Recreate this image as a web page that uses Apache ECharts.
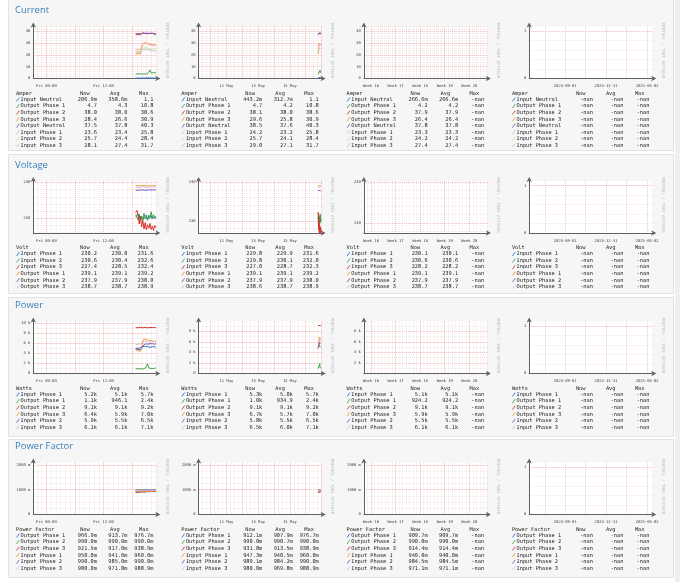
<!DOCTYPE html>
<html>
<head>
<meta charset="utf-8">
<script src="https://cdn.jsdelivr.net/npm/echarts@6/dist/echarts.min.js"></script>
<style>
  html, body { margin: 0; padding: 0; background: #fff; }
  #main { width: 680px; height: 582px; }
</style>
</head>
<body>
<div id="main"></div>
<script>
// sample times of the last hours (Fri 16 May 2025, UTC)
const sampleTimes = ['18:45', '19:00', '19:15', '19:30', '19:45', '20:00', '20:15', '20:30', '20:45',
  '21:00', '21:15', '21:30', '21:45', '22:00', '22:15', '22:30', '22:45', '23:00'];

// ---- Current (A)
const currentNames = ['Input Neutral', 'Output Phase 1', 'Output Phase 2', 'Output Phase 3', 'Output Neutral', 'Input Phase 1', 'Input Phase 2', 'Input Phase 3'];
const currentInNeutral = [0.3, 0.4, 0.3, 0.5, 0.3, 0.2, 0.4, 0.6, 0.3, 0.2, 0.5, 0.3, 0.4, 1.1, 0.3, 0.2, 0.4, 0.21];
const currentOutPhase1 = [3.6, 3.8, 4.0, 3.5, 3.9, 4.2, 3.7, 4.1, 3.9, 4.4, 4.0, 4.3, 7.2, 4.6, 4.1, 5.0, 4.3, 4.7];
const currentOutPhase2 = [37.8, 37.6, 37.9, 38.2, 37.8, 38.0, 38.3, 37.9, 38.1, 38.4, 37.8, 38.0, 38.2, 37.9, 38.1, 38.3, 37.9, 38.0];
const currentOutPhase3 = [20.8, 20.5, 20.9, 20.2, 21.0, 20.6, 29.8, 30.6, 30.2, 29.5, 29.9, 29.0, 28.8, 29.2, 28.6, 28.9, 28.3, 28.4];
const currentOutNeutral = [37.0, 36.8, 37.2, 36.5, 37.0, 37.4, 38.6, 38.9, 38.2, 37.6, 38.3, 39.0, 38.1, 37.5, 38.4, 38.0, 37.2, 37.5];
const currentInPhase1 = [22.1, 22.0, 22.3, 21.8, 22.2, 22.0, 24.5, 25.1, 24.8, 24.2, 24.6, 24.0, 23.8, 24.1, 23.5, 23.9, 23.4, 23.6];
const currentInPhase2 = [22.7, 22.6, 22.9, 22.4, 22.8, 22.5, 25.8, 26.4, 26.0, 25.4, 25.9, 25.1, 24.9, 25.3, 24.8, 25.5, 25.2, 25.7];
const currentInPhase3 = [24.3, 24.2, 24.5, 24.0, 24.4, 24.1, 29.5, 30.2, 29.8, 29.0, 29.4, 28.6, 28.4, 28.9, 28.0, 28.5, 27.9, 28.1];
const currentDayStats = [['206.9m', '358.6m', '1.1'], ['4.7', '4.3', '10.8'], ['38.0', '38.0', '38.6'], ['28.4', '26.6', '30.9'],
  ['37.5', '37.8', '40.3'], ['23.6', '23.4', '25.8'], ['25.7', '24.4', '28.4'], ['28.1', '27.4', '31.7']];
const currentWeekStats = [['443.2m', '312.7m', '1.1'], ['4.7', '4.2', '10.8'], ['38.1', '38.0', '38.6'], ['29.6', '25.8', '30.9'],
  ['38.5', '37.6', '40.3'], ['24.2', '23.2', '25.8'], ['25.7', '24.1', '28.4'], ['29.0', '27.1', '31.7']];
const currentMonthStats = [['266.6m', '266.6m', '-nan'], ['4.2', '4.2', '-nan'], ['37.9', '37.9', '-nan'], ['26.4', '26.4', '-nan'],
  ['37.8', '37.8', '-nan'], ['23.3', '23.3', '-nan'], ['24.2', '24.2', '-nan'], ['27.4', '27.4', '-nan']];
const currentYLabels = [0, 10, 20, 30, 40];

// ---- Voltage (V)
const voltageNames = ['Input Phase 1', 'Input Phase 2', 'Input Phase 3', 'Output Phase 1', 'Output Phase 2', 'Output Phase 3'];
const voltageInPhase1 = [230.5, 230.8, 231.2, 230.5, 229.8, 230.6, 229.5, 230.2, 229.7, 230.9, 229.6, 230.3, 229.9, 230.7, 229.8, 230.4, 230.0, 230.2];
const voltageInPhase2 = [231.0, 230.8, 229.6, 231.2, 229.2, 230.6, 229.5, 231.4, 229.8, 230.5, 229.4, 230.9, 230.0, 231.8, 230.2, 231.0, 229.9, 230.6];
const voltageInPhase3 = [231.6, 232.2, 231.0, 228.4, 230.6, 227.6, 229.4, 227.0, 228.8, 226.8, 228.2, 227.2, 228.6, 226.9, 227.8, 226.6, 228.0, 227.4];
const voltageOutPhase1 = [239.1, 239.0, 239.1, 239.0, 239.1, 239.2, 239.1, 239.0, 239.1, 239.1, 239.0, 239.2, 239.1, 239.1, 239.0, 239.1, 239.2, 239.1];
const voltageOutPhase2 = [237.9, 237.9, 237.8, 237.9, 237.9, 238.0, 237.9, 237.9, 237.8, 237.9, 237.9, 238.0, 237.9, 237.9, 237.9, 237.8, 237.9, 237.9];
const voltageOutPhase3 = [238.7, 238.6, 238.7, 238.8, 238.6, 238.7, 238.9, 238.7, 238.6, 238.8, 238.7, 238.6, 238.7, 238.9, 238.7, 238.6, 238.8, 238.7];
const voltageDayStats = [['230.2', '230.0', '231.6'], ['230.6', '230.4', '232.6'], ['227.4', '228.5', '232.4'],
  ['239.1', '239.1', '239.2'], ['237.9', '237.9', '238.0'], ['238.7', '238.7', '238.9']];
const voltageWeekStats = [['229.8', '229.9', '231.6'], ['229.8', '230.1', '232.0'], ['227.0', '228.7', '232.3'],
  ['239.1', '239.1', '239.2'], ['237.9', '237.9', '238.0'], ['238.6', '238.7', '238.9']];
const voltageMonthStats = [['230.1', '230.1', '-nan'], ['230.6', '230.6', '-nan'], ['228.2', '228.2', '-nan'],
  ['239.1', '239.1', '-nan'], ['237.9', '237.9', '-nan'], ['238.7', '238.7', '-nan']];
const voltageYLabels = [230, 240];

// ---- Power (W)
const powerNames = ['Input Phase 1', 'Output Phase 1', 'Output Phase 2', 'Output Phase 3', 'Input Phase 2', 'Input Phase 3'];
const powerInPhase1 = [4800, 4700, 4800, 4650, 4750, 4900, 5300, 5500, 5400, 5600, 5300, 5500, 5200, 5400, 5300, 5100, 5300, 5200];
const powerOutPhase1 = [950, 900, 950, 880, 920, 1000, 900, 960, 1050, 980, 1900, 1100, 950, 1000, 1150, 980, 1050, 1100];
const powerOutPhase2 = [9100, 9100, 9050, 9100, 9150, 9100, 9050, 9100, 9150, 9100, 9050, 9100, 9100, 9150, 9100, 9050, 9100, 9100];
const powerOutPhase3 = [4700, 4600, 4500, 4700, 4400, 4800, 6400, 6900, 6800, 6700, 6900, 6600, 6800, 6500, 6700, 6400, 6600, 6400];
const powerInPhase2 = [5000, 4900, 5000, 4800, 5100, 5000, 5400, 5700, 5900, 6100, 5800, 6000, 5900, 5700, 5900, 6000, 5800, 5900];
const powerInPhase3 = [5800, 5700, 5800, 5600, 5900, 5800, 6300, 6500, 6400, 6600, 6300, 6500, 6200, 6400, 6300, 6100, 6300, 6100];
const powerDayStats = [['5.2k', '5.1k', '5.7k'], ['1.1k', '946.1', '2.4k'], ['9.1k', '9.1k', '9.2k'],
  ['6.4k', '5.9k', '7.0k'], ['5.9k', '5.5k', '6.5k'], ['6.1k', '6.1k', '7.1k']];
const powerWeekStats = [['5.3k', '5.0k', '5.7k'], ['1.0k', '934.9', '2.4k'], ['9.1k', '9.1k', '9.2k'],
  ['6.7k', '5.7k', '7.0k'], ['5.8k', '5.5k', '6.5k'], ['6.5k', '6.0k', '7.1k']];
const powerMonthStats = [['5.1k', '5.1k', '-nan'], ['924.2', '924.2', '-nan'], ['9.1k', '9.1k', '-nan'],
  ['5.9k', '5.9k', '-nan'], ['5.5k', '5.5k', '-nan'], ['6.1k', '6.1k', '-nan']];
const powerYLabels = [0, 2000, 4000, 6000, 8000, 10000];
const powerMonthYLabels = [2000, 4000, 6000, 8000];

// ---- Power Factor (milli)
const pfNames = ['Output Phase 1', 'Output Phase 2', 'Output Phase 3', 'Input Phase 1', 'Input Phase 2', 'Input Phase 3'];
const pfOutPhase1 = [890, 880, 900, 870, 910, 890, 920, 940, 900, 930, 960, 910, 950, 920, 940, 930, 950, 966.9];
const pfOutPhase2 = [990, 990, 991, 990, 989, 990, 991, 990, 990, 989, 990, 991, 990, 990, 989, 990, 991, 990];
const pfOutPhase3 = [912, 910, 915, 920, 905, 918, 925, 912, 930, 915, 920, 910, 925, 918, 930, 915, 920, 921.5];
const pfInPhase1 = [935, 930, 935, 940, 925, 945, 938, 950, 942, 955, 940, 948, 945, 952, 940, 950, 945, 950];
const pfInPhase2 = [982, 980, 985, 982, 988, 984, 990, 986, 983, 988, 985, 990, 984, 987, 985, 983, 988, 990];
const pfInPhase3 = [968, 965, 970, 968, 975, 972, 980, 970, 966, 978, 972, 969, 975, 980, 970, 974, 976, 980];
const pfDayStats = [['966.9m', '913.7m', '976.7m'], ['990.0m', '990.0m', '990.0m'], ['921.5m', '917.0m', '938.9m'],
  ['950.0m', '941.0m', '960.0m'], ['990.0m', '985.0m', '990.0m'], ['980.0m', '971.8m', '988.9m']];
const pfWeekStats = [['912.1m', '907.9m', '976.7m'], ['990.0m', '990.7m', '990.0m'], ['931.8m', '913.5m', '938.9m'],
  ['947.3m', '940.5m', '960.0m'], ['989.1m', '984.2m', '990.0m'], ['980.0m', '969.8m', '988.9m']];
const pfMonthStats = [['909.7m', '909.7m', '-nan'], ['990.0m', '990.0m', '-nan'], ['914.4m', '914.4m', '-nan'],
  ['940.0m', '940.0m', '-nan'], ['984.5m', '984.5m', '-nan'], ['971.1m', '971.1m', '-nan']];
const pfYLabels = [0, 1000, 2000];

const nanStats = ['-nan', '-nan', '-nan'];
const emptyYLabels = [0, 1];

// ---- time axes
const dayRange = ['2025-05-15T21:15:00Z', '2025-05-16T23:05:00Z'];
const dayLabelTimes = ['2025-05-16T00:00:00Z', '2025-05-16T12:00:00Z'];
const dayLabels = ['Fri 00:00', 'Fri 12:00'];
const weekRange = ['2025-05-09T06:00:00Z', '2025-05-17T00:00:00Z'];
const weekLabelTimes = ['2025-05-11T00:00:00Z', '2025-05-13T00:00:00Z', '2025-05-15T00:00:00Z'];
const weekLabels = ['11 May', '13 May', '15 May'];
const monthRange = ['2025-04-12T00:00:00Z', '2025-05-17T00:00:00Z'];
const monthLabelTimes = ['2025-04-14T00:00:00Z', '2025-04-21T00:00:00Z', '2025-04-28T00:00:00Z', '2025-05-05T00:00:00Z', '2025-05-12T00:00:00Z'];
const monthLabels = ['Week 16', 'Week 17', 'Week 18', 'Week 19', 'Week 20'];
const yearRange = ['2024-05-17T00:00:00Z', '2025-05-17T00:00:00Z'];
const yearLabelTimes = ['2024-09-01T00:00:00Z', '2024-12-31T00:00:00Z', '2025-05-02T00:00:00Z'];
const yearLabels = ['2024-09-01', '2024-12-31', '2025-05-02'];

const palette = ['#2272c8', '#3aa64a', '#d8312b', '#f59a2e', '#7c52b8', '#cbc0da', '#cfe29a', '#f3aab4'];

const HOUR = 3600e3, DAY = 24 * HOUR;

// grid line positions: every step from an anchor, inside [lo, hi]
function marks(anchor, step, lo, hi) {
  const out = [];
  let v = anchor - Math.ceil((anchor - lo) / step) * step;
  for (; v <= hi + 1e-9; v += step) {
    if (v >= lo - 1e-9) out.push(+v.toFixed(6));
  }
  return out;
}

const periods = [
  { range: dayRange, labelTimes: dayLabelTimes, labels: dayLabels, anchor: '2025-05-16T00:00:00Z', major: 6 * HOUR, minor: HOUR },
  { range: weekRange, labelTimes: weekLabelTimes, labels: weekLabels, anchor: '2025-05-16T00:00:00Z', major: DAY, minor: 6 * HOUR },
  { range: monthRange, labelTimes: monthLabelTimes, labels: monthLabels, anchor: '2025-04-14T00:00:00Z', major: 7 * DAY, minor: DAY },
  { range: yearRange, labelTimes: yearLabelTimes, labels: yearLabels, anchor: '2024-09-01T00:00:00Z', major: 60.75 * DAY, minor: 0 }
];

const fmtPlain = v => String(v);
const fmtPower = v => v === 0 ? '0' : (v / 1000) + ' k';
const fmtPf = v => v === 0 ? '0' : v + ' m';

const sections = [
  { title: 'Current', unit: 'Amper', names: currentNames,
    series: [currentInNeutral, currentOutPhase1, currentOutPhase2, currentOutPhase3, currentOutNeutral, currentInPhase1, currentInPhase2, currentInPhase3],
    stats: [currentDayStats, currentWeekStats, currentMonthStats],
    y: [[0, 44], [0, 44], [0, 44]], ylabels: [currentYLabels, currentYLabels, currentYLabels], major: 10, minor: 2, fmt: fmtPlain },
  { title: 'Voltage', unit: 'Volt', names: voltageNames,
    series: [voltageInPhase1, voltageInPhase2, voltageInPhase3, voltageOutPhase1, voltageOutPhase2, voltageOutPhase3],
    stats: [voltageDayStats, voltageWeekStats, voltageMonthStats],
    y: [[225.9, 240.4], [226.9, 240.3], [227.5, 240.2]], ylabels: [voltageYLabels, voltageYLabels, voltageYLabels], major: 10, minor: 2, fmt: fmtPlain },
  { title: 'Power', unit: 'Watts', names: powerNames,
    series: [powerInPhase1, powerOutPhase1, powerOutPhase2, powerOutPhase3, powerInPhase2, powerInPhase3],
    stats: [powerDayStats, powerWeekStats, powerMonthStats],
    y: [[0, 10300], [0, 9900], [0, 9900]], ylabels: [powerYLabels, powerYLabels, powerMonthYLabels], major: 2000, minor: 1000, fmt: fmtPower },
  { title: 'Power Factor', unit: 'Power Factor', names: pfNames,
    series: [pfOutPhase1, pfOutPhase2, pfOutPhase3, pfInPhase1, pfInPhase2, pfInPhase3],
    stats: [pfDayStats, pfWeekStats, pfMonthStats],
    y: [[0, 2100], [0, 2100], [0, 2100]], ylabels: [pfYLabels, pfYLabels, pfYLabels], major: 1000, minor: 250, fmt: fmtPf }
];

// layout
const colBase = [16, 181.3, 346.6, 511.9];
const sectionTop = [10.5, 165, 305.5, 446.5];
const panels = [[-1, 151], [154, 139], [297, 139], [439, 138]];

const monoFont = '"DejaVu Sans Mono", monospace';
const majorLine = { color: 'rgba(236,120,120,0.5)', width: 0.8, type: [1, 1] };
const minorLine = { color: 'rgba(215,170,170,0.35)', width: 0.8, type: [1, 1] };
const axisLineStyle = { color: '#606060', width: 1 };

const grids = [], xAxes = [], yAxes = [], series = [], graphics = [];

panels.forEach(p => {
  graphics.push({ type: 'rect', z: -100, shape: { x: 8.5, y: p[0] + 0.5, width: 665, height: p[1] },
    style: { fill: '#f6f6f6', stroke: '#e2e2e2', lineWidth: 1 } });
});
graphics.push({ type: 'rect', z: -100, shape: { x: 675, y: 0, width: 5, height: 582 }, style: { fill: '#efefef' } });

const sampleMs = sampleTimes.map(t => Date.parse('2025-05-16T' + t + ':00Z'));

sections.forEach((sec, s) => {
  const T = sectionTop[s];
  graphics.push({ type: 'text', z: 10, x: 15, y: T,
    style: { text: sec.title, font: '9.5px "Open Sans", sans-serif', fill: '#3a7fb8', align: 'left', verticalAlign: 'middle', textAlign: 'left', textVerticalAlign: 'middle' } });

  periods.forEach((p, c) => {
    const b = colBase[c];
    const gi = grids.length;
    const xmin = Date.parse(p.range[0]), xmax = Date.parse(p.range[1]);
    const empty = c === 3;
    const yr = empty ? [0, 1.1] : sec.y[c];
    const ylab = (empty ? emptyYLabels : sec.ylabels[c]).filter(v => v >= yr[0] && v <= yr[1]);
    const yMajorStep = empty ? 1 : sec.major, yMinorStep = empty ? 0.2 : sec.minor;
    const labelMap = {};
    p.labelTimes.forEach((t, i) => { labelMap[Date.parse(t)] = p.labels[i]; });

    grids.push({ left: b + 17.3, top: T + 16, width: 123, height: 52, show: true, backgroundColor: '#ffffff', borderWidth: 0 });

    // minor x grid
    xAxes.push({ gridIndex: gi, type: 'value', min: xmin, max: xmax, position: 'top',
      axisLine: { show: false }, axisLabel: { show: false },
      axisTick: { show: false, customValues: p.minor ? marks(Date.parse(p.anchor), p.minor, xmin, xmax) : [] },
      splitLine: { show: !!p.minor, lineStyle: minorLine } });
    // major x axis
    xAxes.push({ gridIndex: gi, type: 'value', min: xmin, max: xmax, position: 'bottom',
      axisLine: { show: true, onZero: false, lineStyle: axisLineStyle, symbol: ['none', 'arrow'], symbolSize: [4, 5], symbolOffset: [0, 4] },
      axisTick: { show: false, customValues: marks(Date.parse(p.anchor), p.major, xmin, xmax) },
      axisLabel: { customValues: p.labelTimes.map(t => Date.parse(t)), formatter: v => labelMap[v] || '',
        fontSize: 3.8, fontFamily: monoFont, color: '#3a3a3a', margin: 6 },
      splitLine: { show: true, lineStyle: majorLine } });
    // minor y grid
    yAxes.push({ gridIndex: gi, type: 'value', min: yr[0], max: yr[1], position: 'right',
      axisLine: { show: false }, axisLabel: { show: false },
      axisTick: { show: false, customValues: marks(0, yMinorStep, yr[0], yr[1]) },
      splitLine: { show: true, lineStyle: minorLine } });
    // major y axis
    yAxes.push({ gridIndex: gi, type: 'value', min: yr[0], max: yr[1], position: 'left',
      axisLine: { show: true, onZero: false, lineStyle: axisLineStyle, symbol: ['none', 'arrow'], symbolSize: [4, 5], symbolOffset: [0, 4] },
      axisTick: { show: false, customValues: marks(0, yMajorStep, yr[0], yr[1]) },
      axisLabel: { customValues: ylab, formatter: empty ? fmtPlain : sec.fmt, fontSize: 3.8, fontFamily: monoFont, color: '#3a3a3a', margin: 3 },
      splitLine: { show: true, lineStyle: majorLine } });

    const xi = xAxes.length - 1, yi = yAxes.length - 1;
    if (c < 2) {
      sec.series.forEach((vals, i) => {
        series.push({ type: 'line', xAxisIndex: xi, yAxisIndex: yi, silent: true, symbol: 'none', z: 3,
          data: sampleMs.map((t, k) => [t, vals[k]]), color: palette[i], lineStyle: { width: 1, color: palette[i] } });
      });
    }

    // watermark
    graphics.push({ type: 'text', z: 10, x: b + 151, y: T + 40, rotation: -Math.PI / 2,
      style: { text: 'RRDTOOL / TOBI OETIKER', font: '4.2px ' + monoFont, fill: '#c2c2c2', align: 'center', verticalAlign: 'middle', textAlign: 'center', textVerticalAlign: 'middle' } });

    // legend table
    const txt = (text, x, y, align, fill) => graphics.push({ type: 'text', z: 10, x: x, y: y,
      style: { text: text, font: '5.3px ' + monoFont, fill: fill || '#1c1c1c', align: align, verticalAlign: 'middle', textAlign: align, textVerticalAlign: 'middle' } });
    const hy = T + 83;
    txt(sec.unit, b, hy, 'left');
    txt('Now', b + 64, hy, 'left');
    txt('Avg', b + 94, hy, 'left');
    txt('Max', b + 123, hy, 'left');
    sec.names.forEach((name, i) => {
      const ry = T + 89 + i * 6.55;
      const st = empty ? nanStats : sec.stats[c][i];
      graphics.push({ type: 'line', z: 10, shape: { x1: b + 0.6, y1: ry + 1.9, x2: b + 3.3, y2: ry - 1.9 },
        style: { stroke: palette[i], lineWidth: 0.9 } });
      txt(name, b + 4.6, ry, 'left');
      txt(st[0], b + 81, ry, 'right');
      txt(st[1], b + 111.5, ry, 'right');
      txt(st[2], b + 137.5, ry, 'right');
    });
  });
});

const chart = echarts.init(document.getElementById('main'));
chart.setOption({
  animation: false,
  backgroundColor: '#ffffff',
  grid: grids,
  xAxis: xAxes,
  yAxis: yAxes,
  series: series,
  graphic: graphics
});
</script>
</body>
</html>
